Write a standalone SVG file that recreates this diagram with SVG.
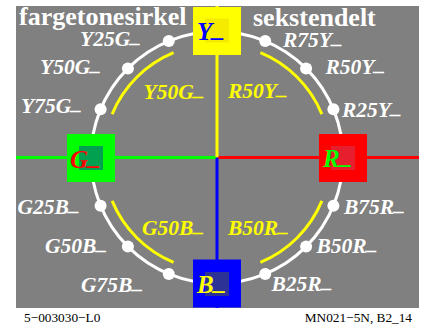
<svg xmlns="http://www.w3.org/2000/svg" width="424" height="331" viewBox="0 0 424 331">
<style>
.lbl{font-family:"Liberation Serif","Times New Roman",serif;font-weight:bold;font-style:italic;font-size:21.5px;fill:#ffffff}
.ylbl{font-family:"Liberation Serif","Times New Roman",serif;font-weight:bold;font-style:italic;font-size:21.5px;fill:#ffff00}
.sq{font-family:"Liberation Serif","Times New Roman",serif;font-weight:bold;font-style:italic;font-size:25px}
.title{font-family:"Liberation Serif","Times New Roman",serif;font-weight:bold;font-size:26px;fill:#ffffff}
.foot{font-family:"Liberation Serif","Times New Roman",serif;font-size:13.3px;fill:#000000}
.dot{fill:#ffffff}
.arc{fill:none;stroke:#ffff00;stroke-width:3}
</style>
<rect x="0" y="0" width="424" height="331" fill="#ffffff"/>
<rect x="16" y="6" width="403" height="302" fill="#808080"/>
<g id="connectors">
  <line x1="16" y1="157.5" x2="217" y2="157.5" stroke="#00ff00" stroke-width="3"/>
  <line x1="217" y1="157.5" x2="419" y2="157.5" stroke="#ff0000" stroke-width="3"/>
  <line x1="217" y1="6" x2="217" y2="157.5" stroke="#ffff00" stroke-width="3"/>
  <line x1="217" y1="157.5" x2="217" y2="308" stroke="#0000ff" stroke-width="3"/>
  <circle cx="217" cy="157.5" r="126" fill="none" stroke="#ffffff" stroke-width="3"/>
  <path class="arc" d="M173.57 52.64 A113.5 113.5 0 0 0 112.14 114.07"/>
  <path class="arc" d="M260.43 52.64 A113.5 113.5 0 0 1 321.86 114.07"/>
  <path class="arc" d="M112.14 200.93 A113.5 113.5 0 0 0 173.57 262.36"/>
  <path class="arc" d="M260.43 262.36 A113.5 113.5 0 0 0 321.86 200.93"/>
</g>
<g id="title">
  <text class="title" x="19" y="24.5">fargetonesirkel</text>
  <text class="title" x="253" y="25.5">sekstendelt</text>
</g>
<g id="node-Y">
  <rect x="193" y="7" width="48" height="48" fill="#ffff00"/>
  <rect x="205" y="18.5" width="24" height="24" fill="#f5eb00"/>
  <text class="sq" x="197" y="40" fill="#0000ff">Y<tspan dy="-4">_</tspan></text>
</g>
<g id="node-G">
  <rect x="67" y="134" width="48" height="48" fill="#00ff00"/>
  <rect x="79" y="146" width="24" height="24" fill="#00a050"/>
  <text class="sq" x="70" y="167.5" fill="#ff0000">G<tspan dy="-4">_</tspan></text>
</g>
<g id="node-R">
  <rect x="319" y="134" width="48" height="48" fill="#ff0000"/>
  <rect x="331" y="146" width="24" height="24" fill="#e61e2d"/>
  <text class="sq" x="323" y="166.5" fill="#00ff00">R<tspan dy="-4">_</tspan></text>
</g>
<g id="node-B">
  <rect x="193" y="259.5" width="48" height="48" fill="#0000ff"/>
  <rect x="205" y="272" width="24" height="24" fill="#2d3296"/>
  <text class="sq" x="197" y="293" fill="#ffff00">B<tspan dy="-4">_</tspan></text>
</g>
<g id="node-Y25G"><circle class="dot" cx="168.78" cy="41.09" r="6"/><text class="lbl" x="80" y="45.7">Y25G<tspan dy="-4">_</tspan></text></g>
<g id="node-Y50G"><circle class="dot" cx="127.9" cy="68.4" r="6"/><text class="lbl" x="40" y="74">Y50G<tspan dy="-4">_</tspan></text></g>
<g id="node-Y75G"><circle class="dot" cx="100.59" cy="109.28" r="6"/><text class="lbl" x="21" y="113.3">Y75G<tspan dy="-4">_</tspan></text></g>
<g id="node-G25B"><circle class="dot" cx="100.59" cy="205.72" r="6"/><text class="lbl" x="17.5" y="214">G25B<tspan dy="-4">_</tspan></text></g>
<g id="node-G50B"><circle class="dot" cx="127.9" cy="246.6" r="6"/><text class="lbl" x="45" y="253.3">G50B<tspan dy="-4">_</tspan></text></g>
<g id="node-G75B"><circle class="dot" cx="168.78" cy="273.91" r="6"/><text class="lbl" x="81" y="291.7">G75B<tspan dy="-4">_</tspan></text></g>
<g id="node-B25R"><circle class="dot" cx="265.22" cy="273.91" r="6"/><text class="lbl" x="271.5" y="290.7">B25R<tspan dy="-4">_</tspan></text></g>
<g id="node-B50R"><circle class="dot" cx="306.1" cy="246.6" r="6"/><text class="lbl" x="316.5" y="253.3">B50R<tspan dy="-4">_</tspan></text></g>
<g id="node-B75R"><circle class="dot" cx="333.41" cy="205.72" r="6"/><text class="lbl" x="344" y="214.3">B75R<tspan dy="-4">_</tspan></text></g>
<g id="node-R25Y"><circle class="dot" cx="333.41" cy="109.28" r="6"/><text class="lbl" x="342" y="116.7">R25Y<tspan dy="-4">_</tspan></text></g>
<g id="node-R50Y"><circle class="dot" cx="306.1" cy="68.4" r="6"/><text class="lbl" x="325.5" y="74">R50Y<tspan dy="-4">_</tspan></text></g>
<g id="node-R75Y"><circle class="dot" cx="265.22" cy="41.09" r="6"/><text class="lbl" x="283" y="46.7">R75Y<tspan dy="-4">_</tspan></text></g>
<g id="node-arclabels">
  <text class="ylbl" x="143.5" y="98.5">Y50G<tspan dy="-4">_</tspan></text>
  <text class="ylbl" x="228" y="98.3">R50Y<tspan dy="-4">_</tspan></text>
  <text class="ylbl" x="142" y="235">G50B<tspan dy="-4">_</tspan></text>
  <text class="ylbl" x="228" y="235">B50R<tspan dy="-4">_</tspan></text>
</g>
<g id="footer">
  <text class="foot" x="24" y="321.7">5−003030−L0</text>
  <text class="foot" x="412" y="321.7" text-anchor="end">MN021−5N, B2_14</text>
</g>
</svg>
